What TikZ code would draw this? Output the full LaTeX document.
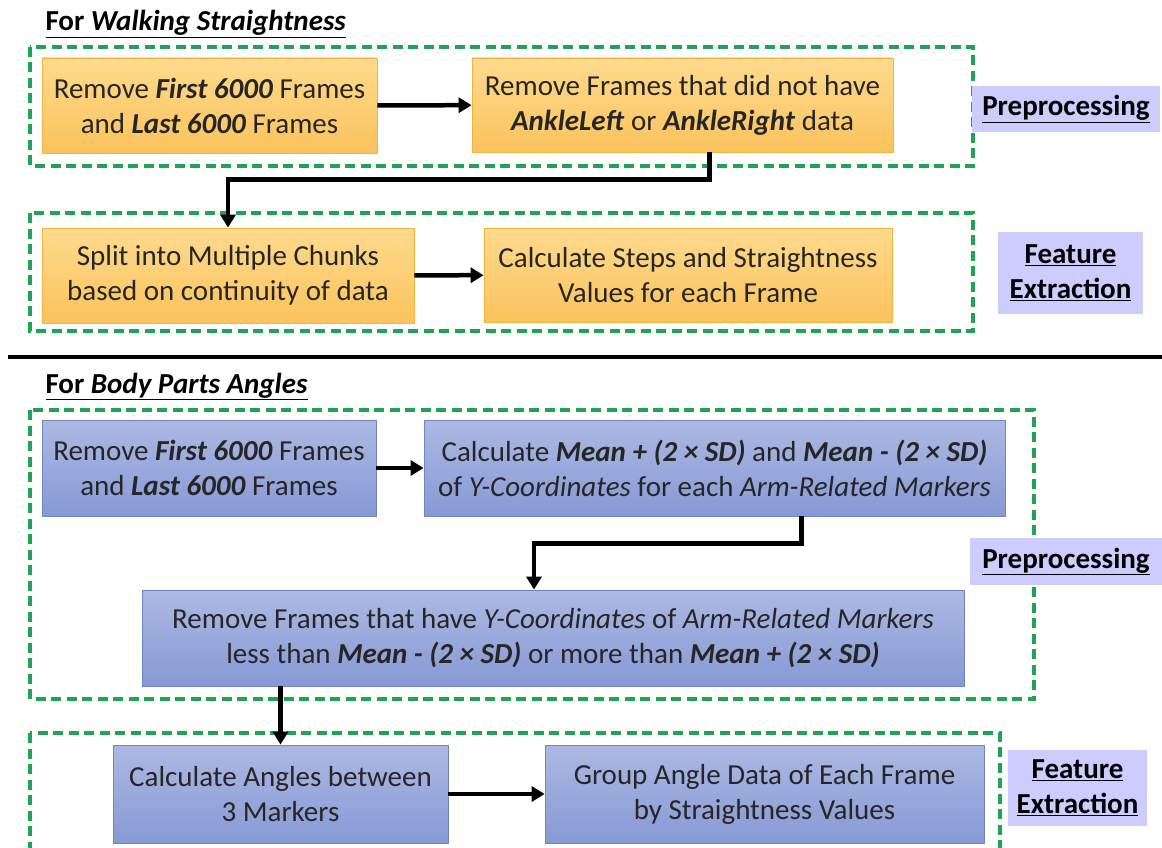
\documentclass[tikz,border=0pt]{standalone}
\usepackage{fontspec}
\setmainfont{Carlito}
\usetikzlibrary{arrows.meta}
\definecolor{frameGreen}{HTML}{1FA454}
\definecolor{orangeTop}{HTML}{FFDA8E}
\definecolor{orangeBot}{HTML}{FAC35C}
\definecolor{orangeEdge}{HTML}{F2B43C}
\definecolor{blueTop}{HTML}{ADB9E3}
\definecolor{blueBot}{HTML}{8799D5}
\definecolor{blueEdge}{HTML}{6F85C6}
\definecolor{stageFill}{HTML}{CCCCFF}
\newcommand{\boldit}[1]{\textbf{\textit{#1}}}
\newcommand{\boxfont}{\fontsize{29}{35}\selectfont}
\tikzset{
  orangebox/.style={draw=orangeEdge,line width=0.8pt,top color=orangeTop,bottom color=orangeBot,
    align=center,inner sep=0pt,text=black!85},
  bluebox/.style={draw=blueEdge,line width=0.8pt,top color=blueTop,bottom color=blueBot,
    align=center,inner sep=0pt,text=black!85},
  stagelabel/.style={fill=stageFill,align=center,inner sep=0pt,font=\boxfont\bfseries},
  groupframe/.style={draw=frameGreen,line width=3.5pt,dash pattern=on 10pt off 5.5pt},
  flowarrow/.style={line width=4.5pt,-{Triangle[length=13pt,width=15pt]}}
}
\begin{document}
\begin{tikzpicture}[x=1pt,y=-1pt,font=\boxfont]
		\useasboundingbox (0,0) rectangle (1162,848);
		\clip (0,0) rectangle (1162,848);
		
		% Walking straightness part
		\node[anchor=base west] (titleA) at (42,31) {\underline{\textbf{For \textit{Walking Straightness}}}};
		\draw[groupframe] (30,47) rectangle (973,166);
		\draw[groupframe] (30,213) rectangle (973,331);
		
		\node[orangebox,minimum width=335,minimum height=95] (A1) at (209.5,105.5)
			{Remove \boldit{First 6000} Frames\\and \boldit{Last 6000} Frames};
		\node[orangebox,minimum width=421,minimum height=94] (A2) at (682.5,105)
			{Remove Frames that did not have\\\boldit{AnkleLeft} or \boldit{AnkleRight} data};
		\node[orangebox,minimum width=372,minimum height=95] (B1) at (228,275.5)
			{Split into Multiple Chunks\\based on continuity of data};
		\node[orangebox,minimum width=408,minimum height=94] (B2) at (688,275)
			{Calculate Steps and Straightness\\Values for each Frame};
		
		\node[stagelabel,minimum width=188,minimum height=46] (prepA) at (1066,109) {\underline{Preprocessing}};
		\node[stagelabel,minimum width=145,minimum height=82] (featA) at (1070.5,273) {\underline{Feature}\\\underline{Extraction}};
		
		\draw[flowarrow] (A1) -- (A2);
		\draw[flowarrow] ([xshift=27pt]A2.south) -- ++(0,27) -| (B1.north);
		\draw[flowarrow] (B1) -- (B2);
		
		% Separator
		\draw[line width=4.5pt] (8,357) -- (1162,357);
		
		% Body parts angles part
		\node[anchor=base west] (titleB) at (42,393) {\underline{\textbf{For \textit{Body Parts Angles}}}};
		\draw[groupframe] (30,410) rectangle (1034,699);
		\draw[groupframe] (30,733) rectangle (1000,880);
		
		\node[bluebox,minimum width=334,minimum height=96] (C1) at (209,468)
			{Remove \boldit{First 6000} Frames\\and \boldit{Last 6000} Frames};
		\node[bluebox,minimum width=581,minimum height=96] (C2) at (714.5,468)
			{Calculate \boldit{Mean + (2 × SD)} and \boldit{Mean - (2 × SD)}\\of \textit{Y-Coordinates} for each \textit{Arm-Related Markers}};
		\node[bluebox,minimum width=822,minimum height=96] (C3) at (553,638)
			{Remove Frames that have \textit{Y-Coordinates} of \textit{Arm-Related Markers}\\less than \boldit{Mean - (2 × SD)} or more than \boldit{Mean + (2 × SD)}};
		\node[bluebox,minimum width=335,minimum height=98] (D1) at (280.5,794)
			{Calculate Angles between\\3 Markers};
		\node[bluebox,minimum width=439,minimum height=98] (D2) at (764.5,794)
			{Group Angle Data of Each Frame\\by Straightness Values};
		
		\node[stagelabel,minimum width=192,minimum height=47] (prepB) at (1066,561.5) {\underline{Preprocessing}};
		\node[stagelabel,minimum width=139,minimum height=76] (featB) at (1077.5,788) {\underline{Feature}\\\underline{Extraction}};
		
		\draw[flowarrow] (C1) -- (C2);
		\draw[flowarrow] ([xshift=87pt]C2.south) -- ++(0,27) -| ([xshift=-19pt]C3.north);
		\draw[flowarrow] (C3.south -| D1.north) -- (D1.north);
		\draw[flowarrow] (D1) -- (D2);
		
\end{tikzpicture}
\end{document}
